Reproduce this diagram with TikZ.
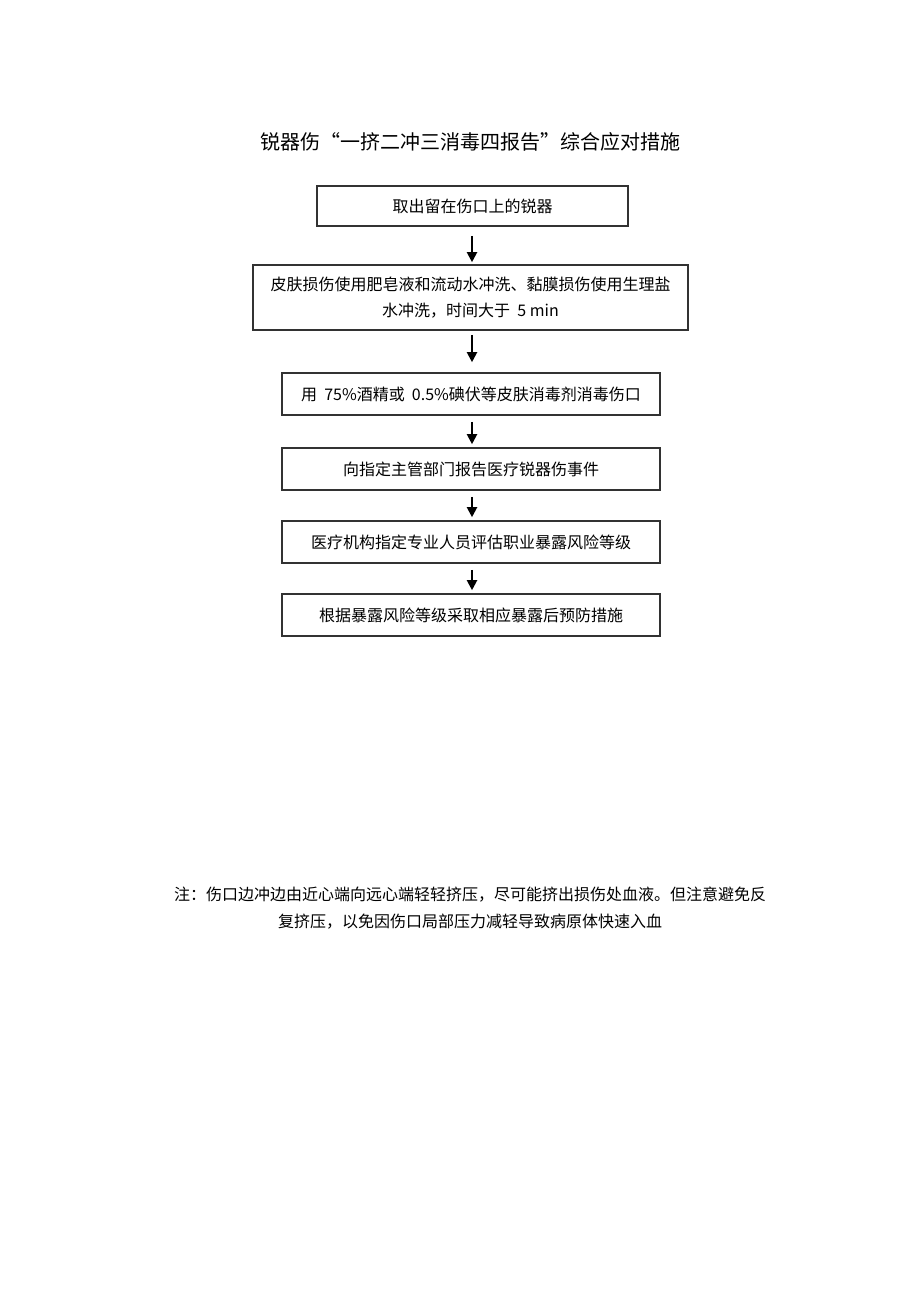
\documentclass[tikz,border=0pt]{standalone}
\usepackage{fontspec}
\setmainfont{Noto Sans CJK SC}
\usepackage{tikz}
\usetikzlibrary{arrows.meta,positioning}
\definecolor{boxline}{RGB}{50,50,50}
\tikzset{
  stepbox/.style={rectangle, draw=boxline, line width=1.6pt, inner sep=0pt,
                  minimum width=#1, font=\fontsize{16}{26}\selectfont, align=center},
  flow/.style={-{Triangle[length=10pt,width=10pt]}, line width=2pt, black,
               shorten <=6pt, shorten >=3pt},
  titletext/.style={font=\fontsize{20}{24}\selectfont},
  notetext/.style={font=\fontsize{16}{27}\selectfont, align=center},
}
\begin{document}
\begin{tikzpicture}[x=1pt,y=-1pt]
  \useasboundingbox[fill=white] (0,0) rectangle (920,1301);

  % title
  \node[titletext] (title) at (470,142) {锐器伤“一挤二冲三消毒四报告”综合应对措施};

  % steps
  \node[stepbox=311pt, minimum height=40pt] (take) at (472.5,206) {取出留在伤口上的锐器};
  \node[stepbox=435pt, minimum height=65pt] (wash) at (470.5,297.5)
    {皮肤损伤使用肥皂液和流动水冲洗、黏膜损伤使用生理盐\\水冲洗，时间大于\ \ 5 min};
  \node[stepbox=378pt, minimum height=42pt] (disinf) at (471,394) {用\ \ 75\%酒精或\ \ 0.5\%碘伏等皮肤消毒剂消毒伤口};
  \node[stepbox=378pt, minimum height=42pt] (report) at (471,469) {向指定主管部门报告医疗锐器伤事件};
  \node[stepbox=378pt, minimum height=42pt] (assess) at (471,542) {医疗机构指定专业人员评估职业暴露风险等级};
  \node[stepbox=378pt, minimum height=42pt] (prevent) at (471,615) {根据暴露风险等级采取相应暴露后预防措施};

  % arrows
  \draw[flow, shorten <=9pt, shorten >=2pt] (take.south -| 472,0) -- (wash.north -| 472,0);
  \draw[flow, shorten <=4pt, shorten >=10pt] (wash.south -| 472,0) -- (disinf.north -| 472,0);
  \foreach \a/\b in {disinf/report, report/assess, assess/prevent}
    \draw[flow] (\a.south -| 472,0) -- (\b.north -| 472,0);

  % note
  \node[notetext] (note) at (470,908.5)
    {注：伤口边冲边由近心端向远心端轻轻挤压，尽可能挤出损伤处血液。但注意避免反\\复挤压，以免因伤口局部压力减轻导致病原体快速入血};
\end{tikzpicture}
\end{document}
